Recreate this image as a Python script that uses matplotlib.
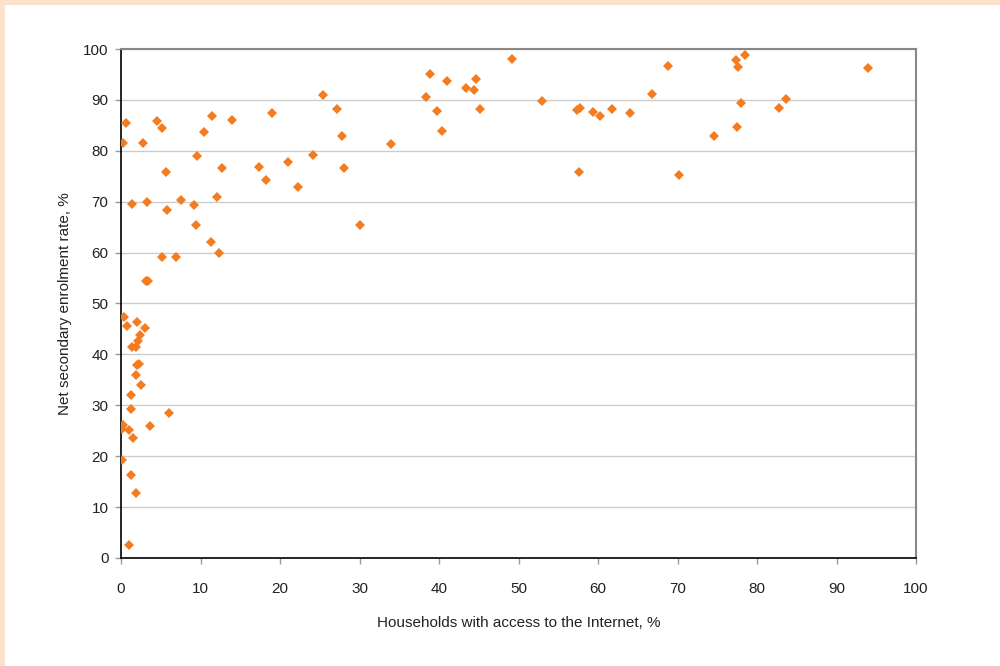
import numpy as np
import matplotlib
matplotlib.use('Agg')
import matplotlib.pyplot as plt
from matplotlib.patches import Rectangle

''' data read off the reference: households with internet (%) vs net secondary enrolment (%) '''
internet_pct = [
    0.2, 0.6, 1.4, 2.8, 3.3, 4.5, 5.1, 5.7, 5.8, 5.1, 3.1, 3.4, 7.5, 9.6, 10.4,
    11.4, 13.9, 9.2, 9.4, 6.9, 11.3, 12.1, 12.7, 12.3,
    0.4, 0.8, 2.0, 3.0, 2.4, 2.2, 1.4, 1.9, 2.0, 2.3, 1.9, 2.5, 1.3, 1.2, 6.1,
    0.3, 0.1, 1.0, 3.7, 1.5, 0.15, 1.2, 1.9, 1.0,
    17.3, 18.2, 19.0, 21.0, 22.3, 24.2, 25.4, 27.2, 27.8, 28.1, 30.1, 33.9,
    38.9, 38.4, 41.0, 39.7, 40.4, 43.4, 44.4, 44.7, 45.1, 49.2, 52.9,
    57.3, 57.7, 57.6, 59.4, 60.2, 61.7, 64.0, 66.8, 68.8, 70.2, 74.6, 77.5,
    77.4, 77.6, 78.5, 78.0, 83.6, 82.8, 94.0,
]
enrolment_pct = [
    81.5, 85.5, 69.6, 81.5, 70.0, 85.8, 84.5, 75.8, 68.3, 59.1, 54.4, 54.4, 70.3, 79.0, 83.6,
    86.8, 86.1, 69.3, 65.5, 59.2, 62.1, 70.9, 76.6, 60.0,
    47.4, 45.6, 46.4, 45.2, 43.9, 42.6, 41.4, 41.4, 38.0, 38.1, 36.0, 34.0, 32.1, 29.2, 28.5,
    26.2, 25.4, 25.2, 25.9, 23.5, 19.3, 16.4, 12.7, 2.6,
    76.8, 74.3, 87.4, 77.8, 72.9, 79.2, 91.0, 88.2, 82.9, 76.6, 65.4, 81.3,
    95.1, 90.5, 93.8, 87.8, 83.8, 92.3, 92.0, 94.1, 88.2, 98.1, 89.8,
    88.0, 88.5, 75.8, 87.6, 86.8, 88.2, 87.4, 91.2, 96.7, 75.3, 82.9, 84.6,
    97.8, 96.4, 98.9, 89.4, 90.2, 88.5, 96.3,
]
x_ticks = list(range(0, 101, 10))
y_ticks = list(range(0, 101, 10))

plt.rcParams['font.family'] = ['Liberation Sans', 'DejaVu Sans']

fig = plt.figure(figsize=(10, 6.66), dpi=100)
fig.patch.set_facecolor('white')
# peach frame strips on top and left edge
fig.add_artist(Rectangle((0, 1 - 5 / 666.), 1, 5 / 666., transform=fig.transFigure,
                         facecolor='#fde2cb', edgecolor='none'))
fig.add_artist(Rectangle((0, 0), 5 / 1000., 1, transform=fig.transFigure,
                         facecolor='#fde2cb', edgecolor='none'))

ax = fig.add_axes([0.121, 0.1622, 0.795, 0.7642])
ax.plot(internet_pct, enrolment_pct, linestyle='none', marker='D', markersize=5,
        color='#f47c20', markeredgewidth=0, zorder=3)

ax.set_xlim(0, 100)
ax.set_ylim(0, 100)
ax.set_xticks(x_ticks)
ax.set_yticks(y_ticks)
ax.yaxis.grid(True, color='#cccccc', linewidth=1)
ax.set_axisbelow(True)

for side in ('top', 'right'):
    ax.spines[side].set_color('#888888')
    ax.spines[side].set_linewidth(1.5)
for side in ('left', 'bottom'):
    ax.spines[side].set_color('black')
    ax.spines[side].set_linewidth(1.2)

ax.tick_params(axis='both', direction='out', length=4, width=1, color='#999999',
               labelsize=11, labelcolor='#222222')
ax.tick_params(axis='x', pad=13.5)
ax.tick_params(axis='y', pad=5)

ax.set_xlabel('Households with access to the Internet, %', fontsize=11, color='#222222', labelpad=14)
ax.set_ylabel('Net secondary enrolment rate, %', fontsize=11, color='#222222', labelpad=8)

fig.savefig('out.png', dpi=100, facecolor='white')
